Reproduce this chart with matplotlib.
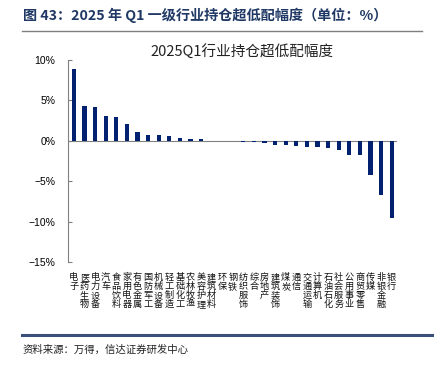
import matplotlib
matplotlib.use('Agg')
import matplotlib.pyplot as plt
import numpy as np

plt.rcParams['font.family'] = ['Noto Sans CJK SC', 'DejaVu Sans']

# industries (Shenwan level-1) and over/under-weight magnitude, %
industries = ['电子', '医药生物', '电力设备', '汽车', '食品饮料', '家用电器', '有色金属',
              '国防军工', '机械设备', '轻工制造', '基础化工', '农林牧渔', '美容护理',
              '建筑材料', '环保', '钢铁', '纺织服饰', '综合', '房地产', '建筑装饰',
              '煤炭', '通信', '交通运输', '计算机', '石油石化', '社会服务', '公用事业',
              '商贸零售', '传媒', '非银金融', '银行']
values = [8.9, 4.3, 4.2, 3.1, 3.0, 2.1, 1.1, 0.7, 0.7, 0.6, 0.35, 0.2, 0.2,
          0.03, 0.01, -0.02, -0.2, -0.2, -0.3, -0.5, -0.5, -0.6, -0.75, -0.8,
          -0.9, -1.2, -1.75, -1.8, -4.2, -6.7, -9.5]
yticks = [10, 5, 0, -5, -10, -15]

navy = '#002070'
fig = plt.figure(figsize=(4.42, 3.68), dpi=100)

# header
fig.text(0.052, 0.957, '图 43：2025 年 Q1 一级行业持仓超低配幅度（单位：%）',
         fontsize=10.2, fontweight='bold', color='#1f3864', va='center')
fig.add_artist(plt.Line2D([0.05, 0.955], [0.915, 0.915], color='#7f7f7f', lw=1.0))

ax = fig.add_axes([0.154, 0.288, 0.744, 0.549])
x = np.arange(len(industries))
ax.bar(x, values, width=0.4, color=navy, zorder=2)
ax.axhline(0, color='#808080', lw=0.8, zorder=1)
ax.set_xlim(-0.55, len(industries) - 0.5)
ax.set_ylim(-15, 10)
ax.set_yticks(yticks)
ax.set_yticklabels([f'{t}%'.replace('-', '−') for t in yticks],
                   fontsize=7.5, family=['Liberation Sans', 'DejaVu Sans'])
ax.tick_params(axis='y', direction='in', length=3, pad=9, color='#808080')
ax.set_xticks(x)
ax.set_xticklabels(['\n'.join(s) for s in industries], fontsize=6.6,
                   linespacing=0.98, va='top', color='#111111')
ax.tick_params(axis='x', length=0, pad=8)
for s in ['top', 'right', 'bottom']:
    ax.spines[s].set_visible(False)
ax.spines['left'].set_color('#808080')
ax.spines['left'].set_linewidth(0.8)

fig.text(0.548, 0.859, '2025Q1行业持仓超低配幅度', fontsize=10.5,
         color='#222222', ha='center', va='center')

# footer
fig.add_artist(plt.Line2D([0.05, 0.978], [0.09, 0.09], color='#3b4f7a', lw=2.2))
fig.text(0.052, 0.05, '资料来源：万得，信达证券研发中心', fontsize=7.5,
         style='italic', color='#222222', va='center')

fig.savefig('out.png', dpi=100)
